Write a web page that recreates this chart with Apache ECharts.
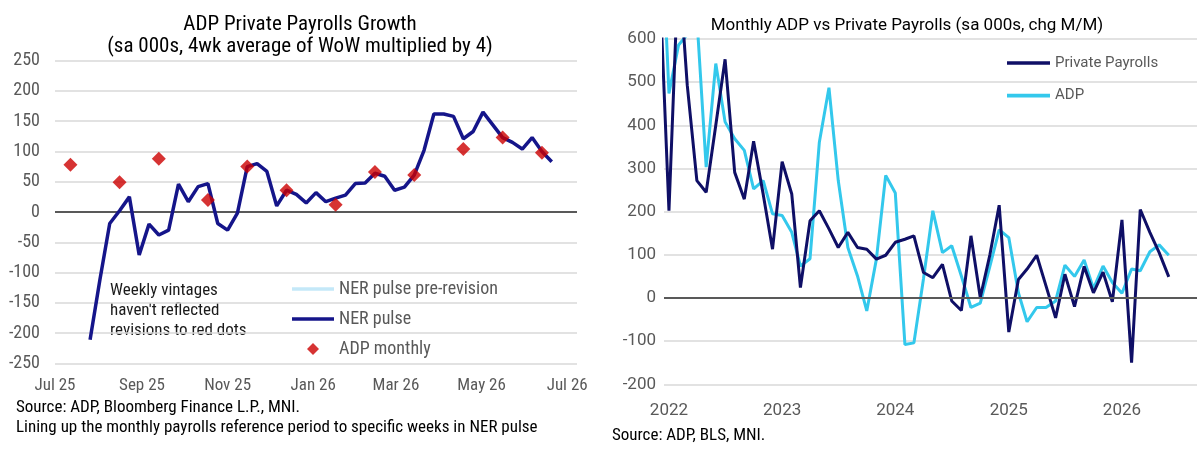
<!DOCTYPE html>
<html><head><meta charset="utf-8">
<script src="https://cdn.jsdelivr.net/npm/echarts@6/dist/echarts.min.js"></script>
<style>html,body{margin:0;padding:0;background:#fff}#c{width:1202px;height:449px}</style>
</head><body><div id="c"></div>
<script>
// ---------- Left chart data ----------
const nerStartDate = '2025-07-26'; // first weekly observation (weeks ending Saturday)
const nerPulse = [-211,-112,-19,2,25,-71,-20,-38,-30,46,17,42,47,-19,-30,-2,75,80,67,10,36,29,15,32,17,23,28,47,48,64,59,36,41,61,102,162,162,158,121,133,165,144,123,115,104,123,100,83];
const nerPreRevision = [];
const adpMonthlyDates = ['2025-07-12','2025-08-16','2025-09-13','2025-10-18','2025-11-15','2025-12-13','2026-01-17','2026-02-14','2026-03-14','2026-04-18','2026-05-16','2026-06-13'];
const adpMonthly = [78,49,88,20,75,36,12,66,61,104,123,98];
const leftTickDates = ['2025-07-01','2025-09-01','2025-11-01','2026-01-01','2026-03-01','2026-05-01','2026-07-01'];

// ---------- Right chart data ----------
const rightStartMonth = [2021, 11]; // Dec 2021 (month index 0-based)
const privatePayrolls = [750,
  202,780,493,272,245,400,553,291,229,363,240,113,
  316,241,24,179,202,160,117,152,117,113,90,99,
  129,136,144,59,47,78,-7,-29,144,1,100,215,
  -79,43,67,99,28,-46,55,-20,73,12,60,-9,
  181,-150,205,152,105,49];
const adp = [980,
  474,586,610,650,303,543,408,369,342,253,272,195,
  191,152,74,91,361,487,272,117,51,-30,90,284,
  243,-108,-104,45,202,105,121,51,-22,-12,73,158,
  140,12,-55,-22,-22,-7,76,50,88,22,74,36,
  11,67,63,107,123,99];
const rightTickYears = [2022,2023,2024,2025,2026];

const MON = ['Jan','Feb','Mar','Apr','May','Jun','Jul','Aug','Sep','Oct','Nov','Dec'];
const ts = s => Date.parse(s + 'T00:00:00Z');
const DAY = 86400000;

const nerData = nerPulse.map((v, i) => [ts(nerStartDate) + i * 7 * DAY, v]);
const adpMonthlyData = adpMonthly.map((v, i) => [ts(adpMonthlyDates[i]), v]);
const monthTs = i => Date.UTC(rightStartMonth[0], rightStartMonth[1] + i, 1);
const ppData = privatePayrolls.map((v, i) => [monthTs(i), v]);
const adpData = adp.map((v, i) => [monthTs(i), v]);

const FL = '"Liberation Sans Narrow", "Roboto Condensed", Roboto, sans-serif';
const FR = 'Roboto, "Liberation Sans", sans-serif';
const GRID = '#d9d9d9', ZERO = '#595959', LAB = '#595959';
const LINE_ICON = 'path://M0,0 L42,0 L42,3.6 L0,3.6 Z';
const DIAMOND_ICON = 'path://M6,0 L12,6 L6,12 L0,6 Z';

const chart = echarts.init(document.getElementById('c'), null, {renderer: 'canvas'});
chart.setOption({
  animation: false,
  backgroundColor: '#fff',
  title: [
    {text: 'ADP Private Payrolls Growth\n(sa 000s, 4wk average of WoW multiplied by 4)',
     left: 295, top: 9, textAlign: 'center',
     textStyle: {fontFamily: FL, fontSize: 21, fontWeight: 'normal', color: '#000', lineHeight: 21.5}},
    {text: 'Monthly ADP vs Private Payrolls (sa 000s, chg M/M)',
     left: 902, top: 11, textAlign: 'center',
     textStyle: {fontFamily: FR, fontSize: 17, fontWeight: 'normal', color: '#000', lineHeight: 20}}
  ],
  legend: [
    {data: [{name: 'NER pulse pre-revision', icon: LINE_ICON}, {name: 'NER pulse', icon: LINE_ICON}, {name: 'ADP monthly', icon: DIAMOND_ICON}],
     orient: 'vertical', left: 292, top: 280, padding: 0, itemWidth: 42, itemHeight: 12, itemGap: 12, itemTextGap: 4,
     symbolKeepAspect: true,
     textStyle: {fontFamily: FL, fontSize: 18, color: LAB, lineHeight: 16}},
    {data: [{name: 'Private Payrolls', icon: LINE_ICON}, {name: 'ADP', icon: LINE_ICON}],
     orient: 'vertical', left: 1007, top: 55, padding: 0, itemWidth: 43, itemHeight: 12, itemGap: 16.7, itemTextGap: 3,
     symbolKeepAspect: true,
     textStyle: {fontFamily: FR, fontSize: 15, color: LAB, lineHeight: 16}}
  ],
  grid: [
    {left: 55, top: 60.7, width: 522, height: 302.6},
    {left: 664, top: 39, width: 533, height: 345.3}
  ],
  xAxis: [
    {type: 'value', gridIndex: 0, min: ts('2025-07-01'), max: ts('2026-07-08'),
     axisLine: {show: false}, axisTick: {show: false}, splitLine: {show: false},
     axisLabel: {customValues: leftTickDates.map(ts), margin: 14, fontFamily: FL, fontSize: 17, color: LAB,
       formatter: v => { const d = new Date(v); return MON[d.getUTCMonth()] + ' ' + String(d.getUTCFullYear()).slice(2); }}},
    {type: 'value', gridIndex: 1, min: Date.UTC(2021, 11, 16), max: Date.UTC(2026, 7, 31),
     axisLine: {show: false}, axisTick: {show: false}, splitLine: {show: false},
     axisLabel: {customValues: rightTickYears.map(y => Date.UTC(y, 0, 1)), margin: 18, fontFamily: FR, fontSize: 17, color: LAB,
       formatter: v => String(new Date(v).getUTCFullYear())}}
  ],
  yAxis: [
    {type: 'value', gridIndex: 0, min: -250, max: 250, interval: 50,
     axisLine: {show: false}, axisTick: {show: false},
     splitLine: {show: true, lineStyle: {color: GRID, width: 1.5}},
     axisLabel: {margin: 15, fontFamily: FL, fontSize: 18, color: LAB}},
    {type: 'value', gridIndex: 1, min: -200, max: 600, interval: 100,
     axisLine: {show: false}, axisTick: {show: false},
     splitLine: {show: true, lineStyle: {color: GRID, width: 1.5}},
     axisLabel: {margin: 8, fontFamily: FR, fontSize: 17, color: LAB}}
  ],
  series: [
    {name: 'NER pulse pre-revision', type: 'line', xAxisIndex: 0, yAxisIndex: 0, data: nerPreRevision,
     symbol: 'none', lineStyle: {color: '#c4e8f8', width: 3.5}, itemStyle: {color: '#c4e8f8'}},
    {name: 'NER pulse', type: 'line', xAxisIndex: 0, yAxisIndex: 0, data: nerData,
     symbol: 'none', lineStyle: {color: '#15158a', width: 3.5}, itemStyle: {color: '#15158a'}, z: 3,
     markLine: {silent: true, symbol: 'none', label: {show: false}, z: 1,
       lineStyle: {color: ZERO, width: 1.8, type: 'solid'}, data: [{yAxis: 0}]}},
    {name: 'ADP monthly', type: 'scatter', xAxisIndex: 0, yAxisIndex: 0, data: adpMonthlyData,
     symbol: 'diamond', symbolSize: 14, itemStyle: {color: '#cc0000'}, z: 4},
    {name: 'Private Payrolls', type: 'line', xAxisIndex: 1, yAxisIndex: 1, data: ppData,
     symbol: 'none', clip: true, lineStyle: {color: '#0f0f66', width: 3}, itemStyle: {color: '#0f0f66'}, z: 4,
     markLine: {silent: true, symbol: 'none', label: {show: false},
       lineStyle: {color: ZERO, width: 1.8, type: 'solid'}, data: [{yAxis: 0}]}},
    {name: 'ADP', type: 'line', xAxisIndex: 1, yAxisIndex: 1, data: adpData,
     symbol: 'none', clip: true, lineStyle: {color: '#33c8ec', width: 3}, itemStyle: {color: '#33c8ec'}, z: 3}
  ],
  graphic: [
    {type: 'text', left: 110, top: 280.5, style: {text: "Weekly vintages\nhaven't reflected\nrevisions to red dots",
      font: '17px ' + FL, fill: '#1a1a1a', lineHeight: 20.2}},
    {type: 'text', left: 16, top: 397.5, style: {text: 'Source: ADP, Bloomberg Finance L.P., MNI.\nLining up the monthly payrolls reference period to specific weeks in NER pulse',
      font: '17px ' + FL, fill: '#000', lineHeight: 20}},
    {type: 'text', left: 612, top: 427, style: {text: 'Source: ADP, BLS, MNI.', font: '17px ' + FL, fill: '#000'}}
  ]
});
</script>
</body></html>
